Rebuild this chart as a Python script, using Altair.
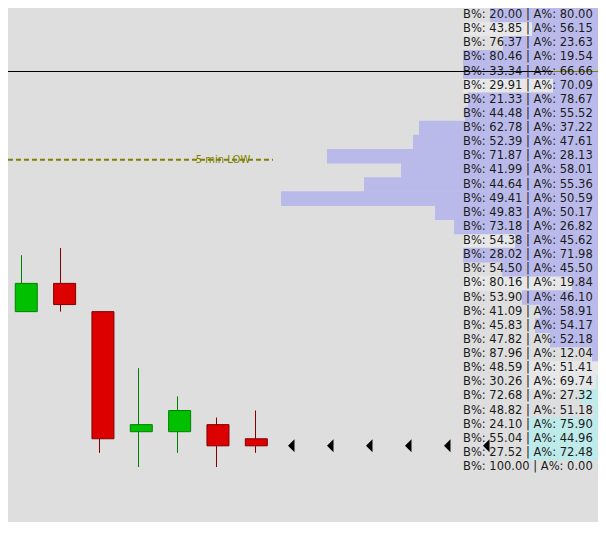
import altair as alt
import pandas as pd

# price rows of the bid/ask table and volume profile, top to bottom (0.50 per row)
levels = [4536.0, 4535.5, 4535.0, 4534.5, 4534.0, 4533.5, 4533.0, 4532.5, 4532.0,
          4531.5, 4531.0, 4530.5, 4530.0, 4529.5, 4529.0, 4528.5, 4528.0, 4527.5,
          4527.0, 4526.5, 4526.0, 4525.5, 4525.0, 4524.5, 4524.0, 4523.5, 4523.0,
          4522.5, 4522.0, 4521.5, 4521.0, 4520.5, 4520.0]
bid_pct = [20.00, 43.85, 76.37, 80.46, 33.34, 29.91, 21.33, 44.48, 62.78, 52.39,
           71.87, 41.99, 44.64, 49.41, 49.83, 73.18, 54.38, 28.02, 54.50, 80.16,
           53.90, 41.09, 45.83, 47.82, 87.96, 48.59, 30.26, 72.68, 48.82, 24.10,
           55.04, 27.52, 100.00]
ask_pct = [80.00, 56.15, 23.63, 19.54, 66.66, 70.09, 78.67, 55.52, 37.22, 47.61,
           28.13, 58.01, 55.36, 50.59, 50.17, 26.82, 45.62, 71.98, 45.50, 19.84,
           46.10, 58.91, 54.17, 52.18, 12.04, 51.41, 69.74, 27.32, 51.18, 75.90,
           44.96, 72.48, 0.00]
volume = [1160, 740, 1030, 1430, 1430, 530, 1380, 1410, 1870, 1930,
          2790, 2050, 2420, 3250, 1710, 1520, 910, 1430, 1040, 340,
          840, 660, 710, 560, 140, 60, 100, 260, 120, 770, 780, 780, 30]

# lighter patches behind the table
hl_levels = [4535.5, 4533.5, 4528.0, 4526.5, 4523.5, 4523.0]
hl_volume = [1430, 1430, 1430, 1430, 770, 770]

# candles
bar_idx = [0, 1, 2, 3, 4, 5, 6]
opens = [4525.5, 4526.5, 4525.5, 4521.25, 4521.25, 4521.5, 4521.0]
highs = [4527.5, 4527.75, 4525.5, 4523.5, 4522.5, 4521.75, 4522.0]
lows = [4525.5, 4525.5, 4520.5, 4520.0, 4520.5, 4520.0, 4520.5]
closes = [4526.5, 4525.75, 4521.0, 4521.5, 4522.0, 4520.75, 4520.75]
future_idx = [7, 8, 9, 10, 11, 12]

prior_level = 4534.0
low_5min = 4530.875
low_label = "5 min LOW"

W, H = 590, 514
ROW_PX = 14.125   # pixel height of one price row
ROW0_Y = 7        # centre of the top row
STEP = 0.5
BG = "#dedede"

y_scale = alt.Scale(domain=[levels[0] - STEP * (H - ROW0_Y) / ROW_PX,
                            levels[0] + STEP * ROW0_Y / ROW_PX], nice=False, zero=False)
idx_scale = alt.Scale(domain=[-13.5 / 39, (W - 13.5) / 39], nice=False, zero=False)
# profile grows leftwards from just past the right edge
vol_scale = alt.Scale(domain=[80, 5980], reverse=True, nice=False, zero=False)

prof = pd.DataFrame({"level": levels, "bid": bid_pct, "ask": ask_pct, "vol": volume})
prof["top"] = prof["level"] + STEP * 0.52
prof["bot"] = prof["level"] - STEP * 0.52
prof["zone"] = ["upper" if lv > 4523.75 else "lower" for lv in levels]
prof["label"] = [f"B%: {b:.2f} | A%: {a:.2f}" for b, a in zip(bid_pct, ask_pct)]

hl = pd.DataFrame({"level": hl_levels, "vol": hl_volume})
hl["top"] = hl["level"] + STEP * 0.5
hl["bot"] = hl["level"] - STEP * 0.5

candles = pd.DataFrame({"idx": bar_idx, "open": opens, "high": highs,
                        "low": lows, "close": closes})
candles["dir"] = ["up" if c >= o else "down" for o, c in zip(opens, closes)]

markers = pd.DataFrame({"idx": future_idx, "price": [closes[-1]] * len(future_idx)})

hl_layer = alt.Chart(hl).mark_rect(color="#e7e7e7").encode(
    x=alt.X("vol:Q", scale=vol_scale, axis=None),
    x2=alt.datum(0),
    y=alt.Y("top:Q", scale=y_scale, axis=None),
    y2="bot:Q",
)

profile = alt.Chart(prof).mark_rect().encode(
    x=alt.X("vol:Q", scale=vol_scale, axis=None),
    x2=alt.datum(0),
    y=alt.Y("top:Q", scale=y_scale, axis=None),
    y2="bot:Q",
    color=alt.Color("zone:N", legend=None,
                    scale=alt.Scale(domain=["upper", "lower"], range=["#babaea", "#bfeaea"])),
)

olive_line = alt.Chart(pd.DataFrame({"y": [prior_level]})).mark_rule(
    color="#808000", strokeWidth=1).encode(
    y=alt.Y("y:Q", scale=y_scale, axis=None), x=alt.value(0), x2=alt.value(W))

black_line = alt.Chart(pd.DataFrame({"y": [prior_level]})).mark_rule(
    color="#000000", strokeWidth=1).encode(
    y=alt.Y("y:Q", scale=y_scale, axis=None), x=alt.value(0), x2=alt.value(545))

low_line = alt.Chart(pd.DataFrame({"y": [low_5min]})).mark_rule(
    color="#808000", strokeWidth=2, strokeDash=[5, 3]).encode(
    y=alt.Y("y:Q", scale=y_scale, axis=None), x=alt.value(0), x2=alt.value(265))

low_text = alt.Chart(pd.DataFrame({"y": [low_5min], "t": [low_label]})).mark_text(
    color="#808000", font="DejaVu Sans", fontSize=10, align="center", baseline="middle").encode(
    y=alt.Y("y:Q", scale=y_scale, axis=None), x=alt.value(215), text="t:N")

table = alt.Chart(prof).mark_text(
    font="DejaVu Sans", fontSize=11.5, color="#1a1a1a", align="left", baseline="middle").encode(
    y=alt.Y("level:Q", scale=y_scale, axis=None), x=alt.value(455), text="label:N")

dir_fill = alt.Scale(domain=["up", "down"], range=["#00c000", "#dd0000"])
dir_line = alt.Scale(domain=["up", "down"], range=["#008000", "#800000"])

wicks = alt.Chart(candles).mark_rule(strokeWidth=1).encode(
    x=alt.X("idx:Q", scale=idx_scale, axis=None),
    y=alt.Y("low:Q", scale=y_scale, axis=None),
    y2="high:Q",
    color=alt.Color("dir:N", scale=dir_line, legend=None),
)

bodies = alt.Chart(candles).mark_bar(size=22, strokeWidth=1).encode(
    x=alt.X("idx:Q", scale=idx_scale, axis=None),
    y=alt.Y("open:Q", scale=y_scale, axis=None),
    y2="close:Q",
    fill=alt.Fill("dir:N", scale=dir_fill, legend=None),
    stroke=alt.Stroke("dir:N", scale=dir_line, legend=None),
)

price_marks = alt.Chart(markers).mark_point(
    shape="M0,-1L0,1L-1,0Z", filled=True, size=169, color="#000000", opacity=1).encode(
    x=alt.X("idx:Q", scale=idx_scale, axis=None),
    y=alt.Y("price:Q", scale=y_scale, axis=None),
)

chart = (
    alt.layer(hl_layer, profile, olive_line, black_line, low_line, low_text,
              table, wicks, bodies, price_marks)
    .resolve_scale(x="independent", color="independent")
    .properties(width=W, height=H, padding=0, background=BG,
                autosize=alt.AutoSizeParams(type="none"))
    .configure_view(strokeWidth=0)
)

chart.save("out.html", embed_options={"renderer": "svg", "actions": False})
